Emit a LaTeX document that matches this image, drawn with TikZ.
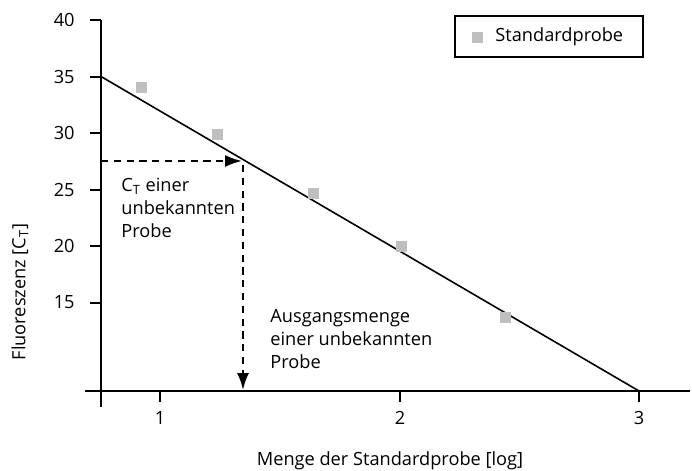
\documentclass[tikz,border=0pt]{standalone}
\usepackage{fontspec}
\setmainfont{Open Sans}
\usetikzlibrary{arrows.meta}

\tikzset{
	axis/.style={line width=1pt},
	fit line/.style={line width=0.8pt},
	probe/.style={fill=black!25, minimum size=5.5pt, inner sep=0pt},
	readoff/.style={line width=1pt, dash pattern=on 3.6pt off 2.8pt, -{Latex[length=8.5pt,width=6pt]}},
	lbl/.style={font=\fontsize{9.1}{11.5}\selectfont, inner sep=0pt},
}

\begin{document}
\begin{tikzpicture}[x=0.5pt,y=-0.5pt]
	\useasboundingbox (0,0) rectangle (692,471);
	
	%axes
	\draw[axis] (101,20)--(101,407);		%y axis
	\draw[axis] (85,391)--(690,391);		%x axis
	\foreach \val/\y in {40/20,35/76.5,30/133,25/189.5,20/246,15/302.5}{
		\draw[axis] (90,\y)--(101,\y);
		\node[lbl, anchor=east] (y\val) at (75,\y) {\val};
	}
	\foreach \val/\x in {1/160,2/400,3/639}{
		\draw[axis] (\x,391)--(\x,402);
		\node[lbl] (x\val) at (\x,418) {\val};
	}
	\node[lbl] (xlabel) at (390,461) {Menge der Standardprobe [log]};
	\node[lbl, rotate=90] (ylabel) at (20,292) {Fluoreszenz [C\textsubscript{T}]};
	
	%standard curve
	\coordinate (start) at (101,76.5);		%35 on the y axis
	\coordinate (end) at (639,391);			%3 on the x axis
	\draw[fit line] (start)--(end);
	\foreach \n/\x/\y in {a/141/87,b/217/134,c/313/193,d/401/246,e/505/317}
		\node[probe] (p\n) at (\x,\y) {};
	
	%read-off arrows
	\coordinate (ct) at (101,161);
	\coordinate (hit) at (242,161);
	\coordinate (drop) at (243,165);
	\coordinate (base) at (243,390);
	\draw[readoff] (ct)--(hit);
	\draw[readoff] (drop)--(base);
	\node[lbl, anchor=north west, align=left] (unknown) at (121,178) {C\textsubscript{T} einer\\unbekannten\\Probe};
	\node[lbl, anchor=north west, align=left] (amount) at (270,309) {Ausgangsmenge\\einer unbekannten\\Probe};
	
	%legend
	\node[draw, line width=0.9pt, minimum width=94pt, minimum height=20.5pt] (legend) at (549,36.5) {};
	\node[probe] (lsq) at (477,37) {};
	\node[lbl, anchor=west] (ltext) at (495,37) {Standardprobe};
\end{tikzpicture}
\end{document}
